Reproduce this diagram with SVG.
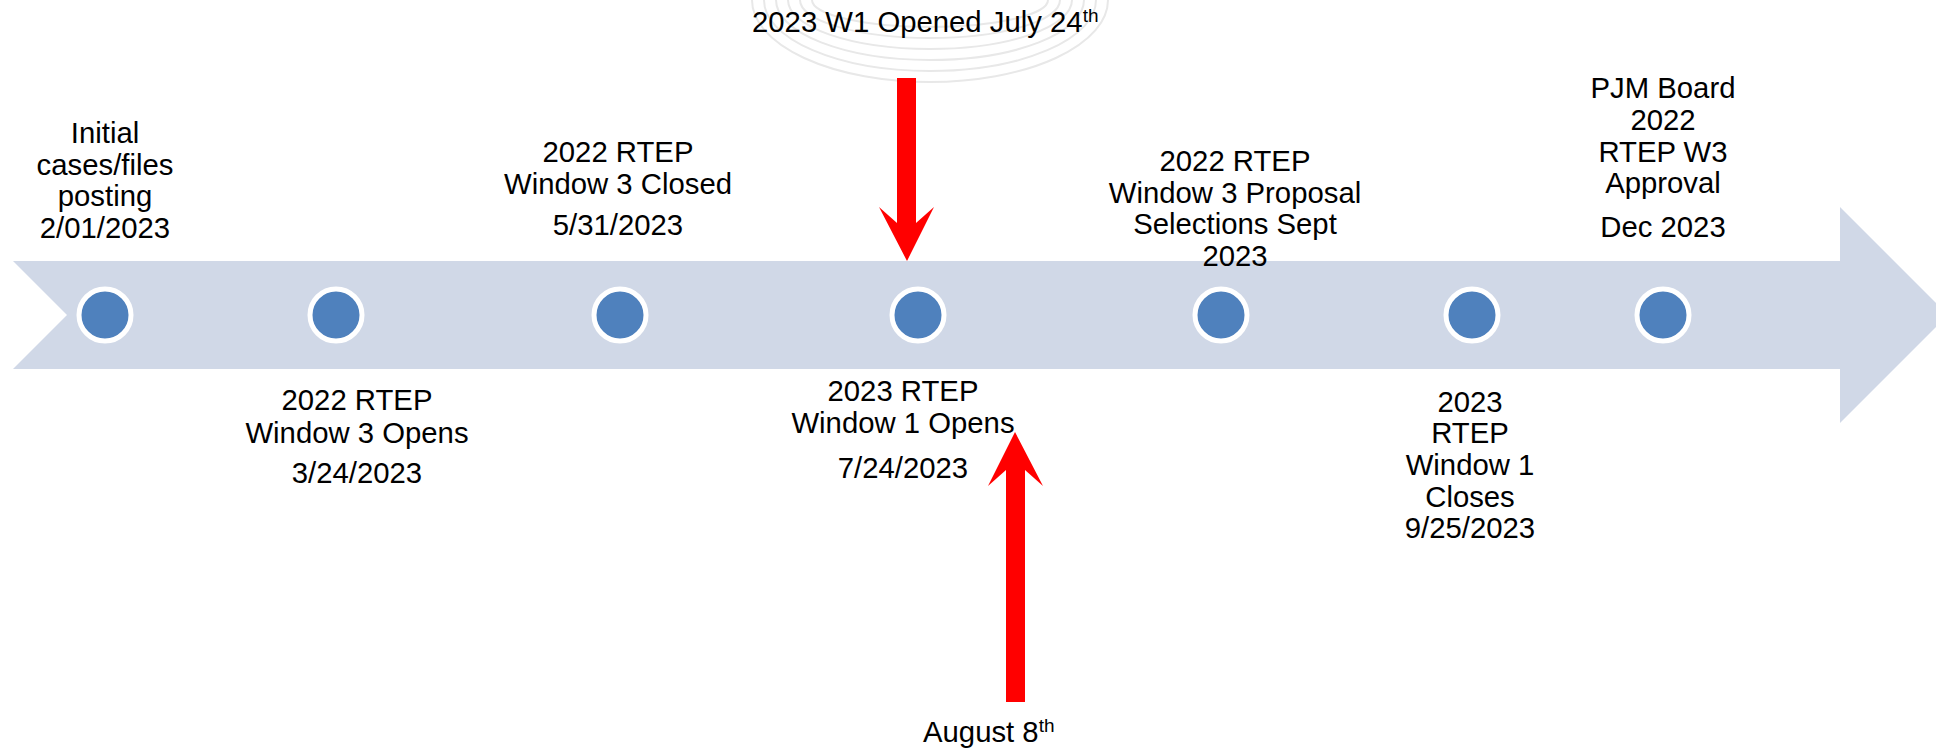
<svg xmlns="http://www.w3.org/2000/svg" width="1936" height="751" viewBox="0 0 1936 751">
<style>
  text { font-family: "Liberation Sans", Arial, sans-serif; font-size: 29.3px; fill: #000; }
  .c { text-anchor: middle; }
  .sup { font-size: 19px; }
  .dot { fill: #4F81BD; stroke: #FFFFFF; stroke-width: 5; }
  .swirl { fill: none; stroke: #E8E8E8; stroke-width: 2; }
  .red { fill: #FF0000; }
</style>
<rect width="1936" height="751" fill="#FFFFFF"/>
<g id="watermark">
  <path class="swirl" d="M752 0 A178 82 0 0 0 1108 0"/>
  <path class="swirl" d="M764 0 A166 71 0 0 0 1096 0"/>
  <path class="swirl" d="M776 0 A154 60 0 0 0 1084 0"/>
  <path class="swirl" d="M788 0 A142 49 0 0 0 1072 0"/>
  <path class="swirl" d="M800 0 A130 38 0 0 0 1060 0"/>
  <path class="swirl" d="M812 0 A118 27 0 0 0 1048 0"/>
</g>
<g id="timeline">
  <polygon points="13,261 1840,261 1840,207 1948,315 1840,423 1840,369 13,369 67,315" fill="#D0D8E7"/>
</g>
<g id="node1">
  <circle class="dot" cx="105" cy="315" r="26"/>
  <text class="c" x="105" y="143">Initial</text>
  <text class="c" x="105" y="174.5">cases/files</text>
  <text class="c" x="105" y="206">posting</text>
  <text class="c" x="105" y="237.5">2/01/2023</text>
</g>
<g id="node2">
  <circle class="dot" cx="336" cy="315" r="26"/>
  <text class="c" x="357" y="410">2022 RTEP</text>
  <text class="c" x="357" y="443">Window 3 Opens</text>
  <text class="c" x="357" y="483">3/24/2023</text>
</g>
<g id="node3">
  <circle class="dot" cx="620" cy="315" r="26"/>
  <text class="c" x="618" y="162">2022 RTEP</text>
  <text class="c" x="618" y="194">Window 3 Closed</text>
  <text class="c" x="618" y="235">5/31/2023</text>
</g>
<g id="node4">
  <circle class="dot" cx="918" cy="315" r="26"/>
  <text class="c" x="903" y="401">2023 RTEP</text>
  <text class="c" x="903" y="433">Window 1 Opens</text>
  <text class="c" x="903" y="478">7/24/2023</text>
</g>
<g id="node5">
  <circle class="dot" cx="1221" cy="315" r="26"/>
  <text class="c" x="1235" y="171">2022 RTEP</text>
  <text class="c" x="1235" y="203">Window 3 Proposal</text>
  <text class="c" x="1235" y="234">Selections Sept</text>
  <text class="c" x="1235" y="266">2023</text>
</g>
<g id="node6">
  <circle class="dot" cx="1472" cy="315" r="26"/>
  <text class="c" x="1470" y="412">2023</text>
  <text class="c" x="1470" y="443">RTEP</text>
  <text class="c" x="1470" y="475">Window 1</text>
  <text class="c" x="1470" y="507">Closes</text>
  <text class="c" x="1470" y="538">9/25/2023</text>
</g>
<g id="node7">
  <circle class="dot" cx="1663" cy="315" r="26"/>
  <text class="c" x="1663" y="98">PJM Board</text>
  <text class="c" x="1663" y="130">2022</text>
  <text class="c" x="1663" y="162">RTEP W3</text>
  <text class="c" x="1663" y="193">Approval</text>
  <text class="c" x="1663" y="237">Dec 2023</text>
</g>
<g id="callout-top">
  <text x="752" y="32">2023 W1 Opened July 24<tspan class="sup" dy="-10">th</tspan></text>
</g>
<g id="callout-bottom">
  <text x="923" y="742">August 8<tspan class="sup" dy="-10">th</tspan></text>
</g>
<g id="connectors">
  <polygon class="red" points="897,78 916,78 916,223 934,207 907,261 879,207 897,223"/>
  <polygon class="red" points="1006,702 1025,702 1025,470 1043,486 1015,432 988,486 1006,470"/>
</g>
</svg>
